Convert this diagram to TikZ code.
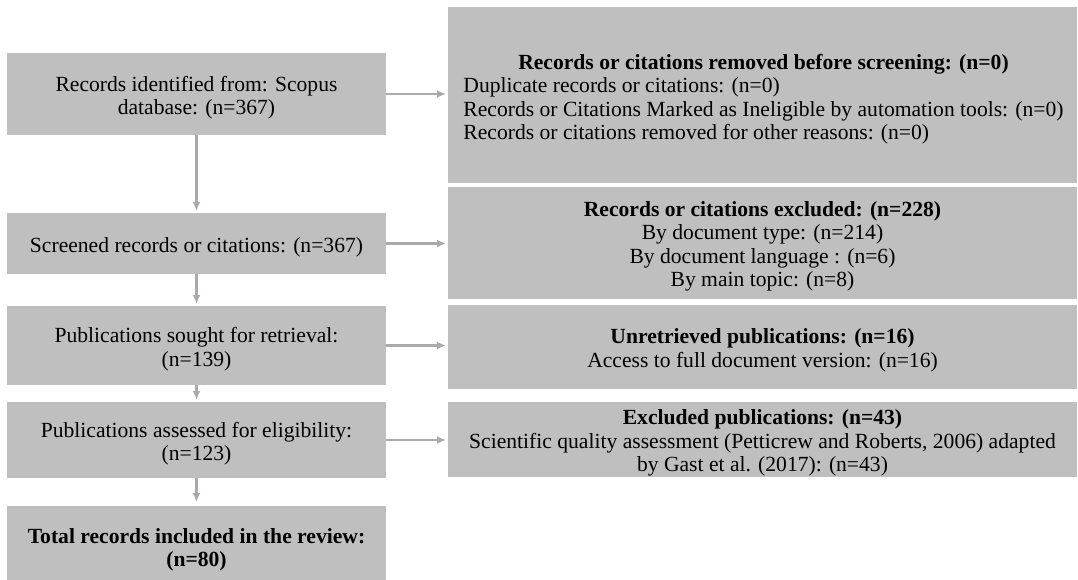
\documentclass[tikz,border=0pt]{standalone}
\usepackage{fontspec}
\setmainfont{Liberation Serif}
\usetikzlibrary{arrows.meta}
\definecolor{boxgray}{RGB}{191,191,191}
\definecolor{arrowgray}{RGB}{170,170,170}
\begin{document}
\begin{tikzpicture}[
  every node/.style={inner sep=0pt, outer sep=0pt},
  box/.style={fill=boxgray},
  lbox/.style={box, minimum width=379pt},
  rbox/.style={box, minimum width=629pt},
  txt/.style={align=center, font=\fontsize{21.6}{23.5}\selectfont},
  flow/.style={draw=arrowgray, line width=2.6pt, -{Latex[length=9pt,width=8pt]}, shorten >=2pt}
]
\useasboundingbox (0,0) rectangle (1078pt,-579pt);

% left column boxes
\node[lbox, minimum height=82pt] (L1) at (196.5pt,-94pt) {};
\node[lbox, minimum height=61pt] (L2) at (196.5pt,-243.5pt) {};
\node[lbox, minimum height=79pt] (L3) at (196.5pt,-345.5pt) {};
\node[lbox, minimum height=76pt] (L4) at (196.5pt,-440pt) {};
\node[lbox, minimum height=81pt] (L5) at (196.5pt,-546.5pt) {};

% right column boxes
\node[rbox, minimum height=176pt] (R1) at (762.5pt,-95pt) {};
\node[rbox, minimum height=112pt] (R2) at (762.5pt,-243pt) {};
\node[rbox, minimum height=84pt] (R3) at (762.5pt,-347pt) {};
\node[rbox, minimum height=75pt] (R4) at (762.5pt,-439.5pt) {};

% texts
\node[txt] (L1t) at ([yshift=-3.5pt]L1.center) {Records identified from: Scopus\\database: (n=367)};
\node[txt] (L2t) at ([yshift=-3.5pt]L2.center) {Screened records or citations: (n=367)};
\node[txt] (L3t) at ([yshift=-3.5pt]L3.center) {Publications sought for retrieval:\\(n=139)};
\node[txt, font=\fontsize{21.6}{23.5}\selectfont\bfseries] (L5t) at ([yshift=-3.5pt]L5.center) {Total records included in the review:\\(n=80)};
\node[txt] (L4t) at ([yshift=-3.5pt]L4.center) {Publications assessed for eligibility:\\(n=123)};

\node[txt] (R1t) at ([xshift=1pt,yshift=-5pt]R1.center) {%
  \begin{tabular}{@{}l@{}}
  \multicolumn{1}{c}{\bfseries Records or citations removed before screening: (n=0)}\\
  Duplicate records or citations: (n=0)\\
  Records or Citations Marked as Ineligible by automation tools: (n=0)\\
  Records or citations removed for other reasons: (n=0)
  \end{tabular}};
\node[txt] (R2t) at ([yshift=-3.5pt]R2.center) {\textbf{Records or citations excluded: (n=228)}\\By document type: (n=214)\\By document language : (n=6)\\By main topic: (n=8)};
\node[txt] (R3t) at ([yshift=-3.5pt]R3.center) {\textbf{Unretrieved publications: (n=16)}\\Access to full document version: (n=16)};
\node[txt] (R4t) at ([yshift=-3.5pt]R4.center) {\textbf{Excluded publications: (n=43)}\\Scientific quality assessment (Petticrew and Roberts, 2006) adapted\\by Gast et al. (2017): (n=43)};

% vertical flow
\draw[flow] (L1) -- (L2);
\draw[flow] (L2) -- (L3);
\draw[flow] (L3) -- (L4);
\draw[flow, shorten >=4pt] (L4) -- (L5);

% horizontal flow
\draw[flow] (L1.east) -- (L1.east -| R1.west);
\draw[flow] (L2.east) -- (L2.east -| R2.west);
\draw[flow] (L3.east) -- (L3.east -| R3.west);
\draw[flow] (L4.east) -- (L4.east -| R4.west);
\end{tikzpicture}
\end{document}
